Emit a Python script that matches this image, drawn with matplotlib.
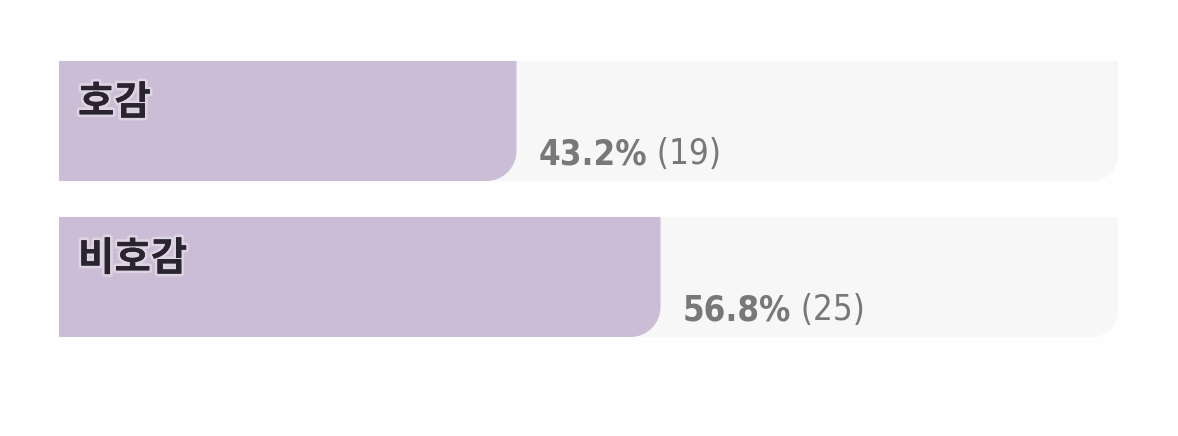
import matplotlib.pyplot as plt
import matplotlib.patheffects as pe
from matplotlib.path import Path
from matplotlib.patches import PathPatch

# data
categories = ['호감', '비호감']
percents = [43.2, 56.8]
counts = [19, 25]

fillColor = '#cbbdd5'
trackColor = '#f7f7f7'
labelColor = '#2a2330'
valueColor = '#787878'

W, H = 1178, 436
fig = plt.figure(figsize=(W / 100, H / 100), dpi=100)
fig.patch.set_facecolor('#fefefe')

# axes spans the track area (pixels 59..1118 wide, 61..337 tall)
left, right, top, bottom = 59, 1118, 61, 337
ax = fig.add_axes([left / W, (H - bottom) / H, (right - left) / W, (bottom - top) / H])
barH = 120 / 156
pad = barH / 2
ax.set_xlim(0, 100)
ax.set_ylim(len(categories) - 1 + pad, -pad)
ax.axis('off')

pxX = 100 / (right - left)
pxY = 1 / 156


def bottomRightRounded(x0, x1, y0, y1, r):
    # y0 top, y1 bottom (inverted axis), only bottom-right corner rounded
    rx, ry = r * pxX, r * pxY
    k = 0.5523
    verts = [
        (x0, y0), (x1, y0), (x1, y1 - ry),
        (x1, y1 - ry + k * ry), (x1 - rx + k * rx, y1), (x1 - rx, y1),
        (x0, y1), (x0, y0),
    ]
    codes = [Path.MOVETO, Path.LINETO, Path.LINETO,
             Path.CURVE4, Path.CURVE4, Path.CURVE4,
             Path.LINETO, Path.CLOSEPOLY]
    return Path(verts, codes)


for i, (cat, pct, n) in enumerate(zip(categories, percents, counts)):
    y0, y1 = i - barH / 2, i + barH / 2
    ax.add_patch(PathPatch(bottomRightRounded(0, 100, y0, y1, 26),
                           facecolor=trackColor, edgecolor='none'))
    ax.add_patch(PathPatch(bottomRightRounded(0, pct, y0, y1, 30),
                           facecolor=fillColor, edgecolor='none'))

    ax.annotate(cat, xy=(0, y0), xytext=(19, -42), textcoords='offset pixels',
                ha='left', va='center', fontsize=28.5, fontweight='bold',
                family=['Noto Sans CJK KR', 'DejaVu Sans'], color=labelColor,
                path_effects=[pe.withStroke(linewidth=4, foreground='white', alpha=0.35),
                              pe.Normal()])

    t = ax.annotate(f'{pct:.1f}%', xy=(pct, y1), xytext=(22, 17), textcoords='offset pixels',
                    ha='left', va='baseline', fontsize=25, fontweight='bold',
                    family='DejaVu Sans', fontstretch='condensed', color=valueColor)
    ax.annotate(f' ({n})', xycoords=t, xy=(1, 0), xytext=(0, 0), textcoords='offset pixels',
                ha='left', va='bottom', fontsize=25, family='DejaVu Sans',
                fontstretch='condensed', color=valueColor)

fig.savefig('out.png', dpi=100, facecolor=fig.get_facecolor())
